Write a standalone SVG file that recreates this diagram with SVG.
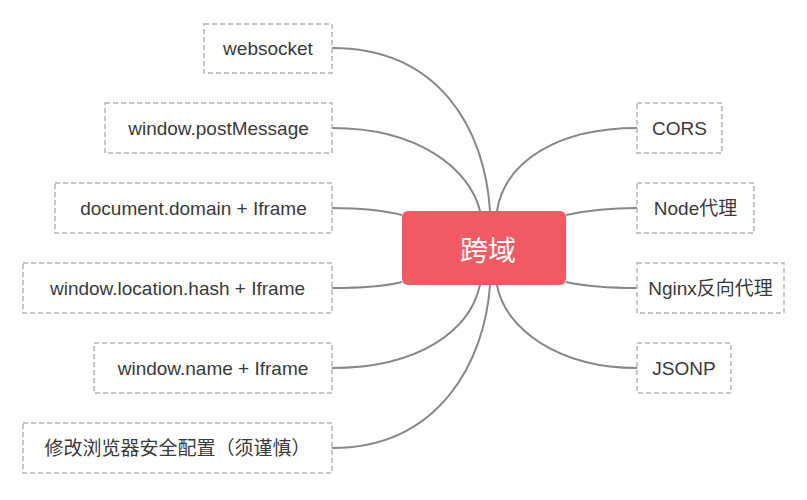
<svg xmlns="http://www.w3.org/2000/svg" width="807" height="500" viewBox="0 0 807 500">
<style>
.n rect{fill:#fff;stroke:#b5b5b5;stroke-width:1.5;stroke-dasharray:5 3}
.n text{font-family:"Liberation Sans","Noto Sans CJK SC",sans-serif;font-size:19px;fill:#3a3a3a;text-anchor:middle;dominant-baseline:central}
#edges path{fill:none;stroke:#888;stroke-width:2}
</style>
<rect width="807" height="500" fill="#fff"/>
<g id="edges">
<path d="M332,48 C440,48 485,130 490,211"/>
<path d="M332,128 C420,128 470,170 480,211"/>
<path d="M332,208 C370,208 390,212 402,215"/>
<path d="M332,288 C370,288 390,285 402,282"/>
<path d="M332,368 C420,368 470,330 480,285"/>
<path d="M332,448 C440,448 485,360 490,285"/>
<path d="M637,128 C560,128 505,160 497,211"/>
<path d="M637,208 C600,208 580,212 566,215"/>
<path d="M637,288 C600,288 580,285 566,282"/>
<path d="M637,368 C560,368 505,330 497,285"/>
</g>
<g id="center"><rect x="402" y="211" width="164" height="74" rx="6" fill="#f25a63"/><text x="488" y="249" font-family="'Noto Sans CJK SC',sans-serif" font-size="28" fill="#fff" text-anchor="middle" dominant-baseline="central">跨域</text></g>
<g id="n1" class="n"><rect x="204" y="24" width="128" height="49"/><text x="268" y="48.5">websocket</text></g>
<g id="n2" class="n"><rect x="105" y="103" width="227" height="50"/><text x="218.5" y="128">window.postMessage</text></g>
<g id="n3" class="n"><rect x="55" y="183" width="277" height="50"/><text x="193.5" y="208">document.domain + Iframe</text></g>
<g id="n4" class="n"><rect x="23" y="263" width="309" height="50"/><text x="177.5" y="288">window.location.hash + Iframe</text></g>
<g id="n5" class="n"><rect x="94" y="343" width="238" height="50"/><text x="213" y="368">window.name + Iframe</text></g>
<g id="n6" class="n"><rect x="23" y="423" width="309" height="50"/><text x="177.5" y="448">修改浏览器安全配置（须谨慎）</text></g>
<g id="r1" class="n"><rect x="637" y="103" width="85" height="50"/><text x="679.5" y="128">CORS</text></g>
<g id="r2" class="n"><rect x="637" y="183" width="117" height="50"/><text x="695.5" y="208">Node代理</text></g>
<g id="r3" class="n"><rect x="637" y="263" width="147" height="50"/><text x="710.5" y="288">Nginx反向代理</text></g>
<g id="r4" class="n"><rect x="637" y="343" width="94" height="50"/><text x="684" y="368">JSONP</text></g>
</svg>
